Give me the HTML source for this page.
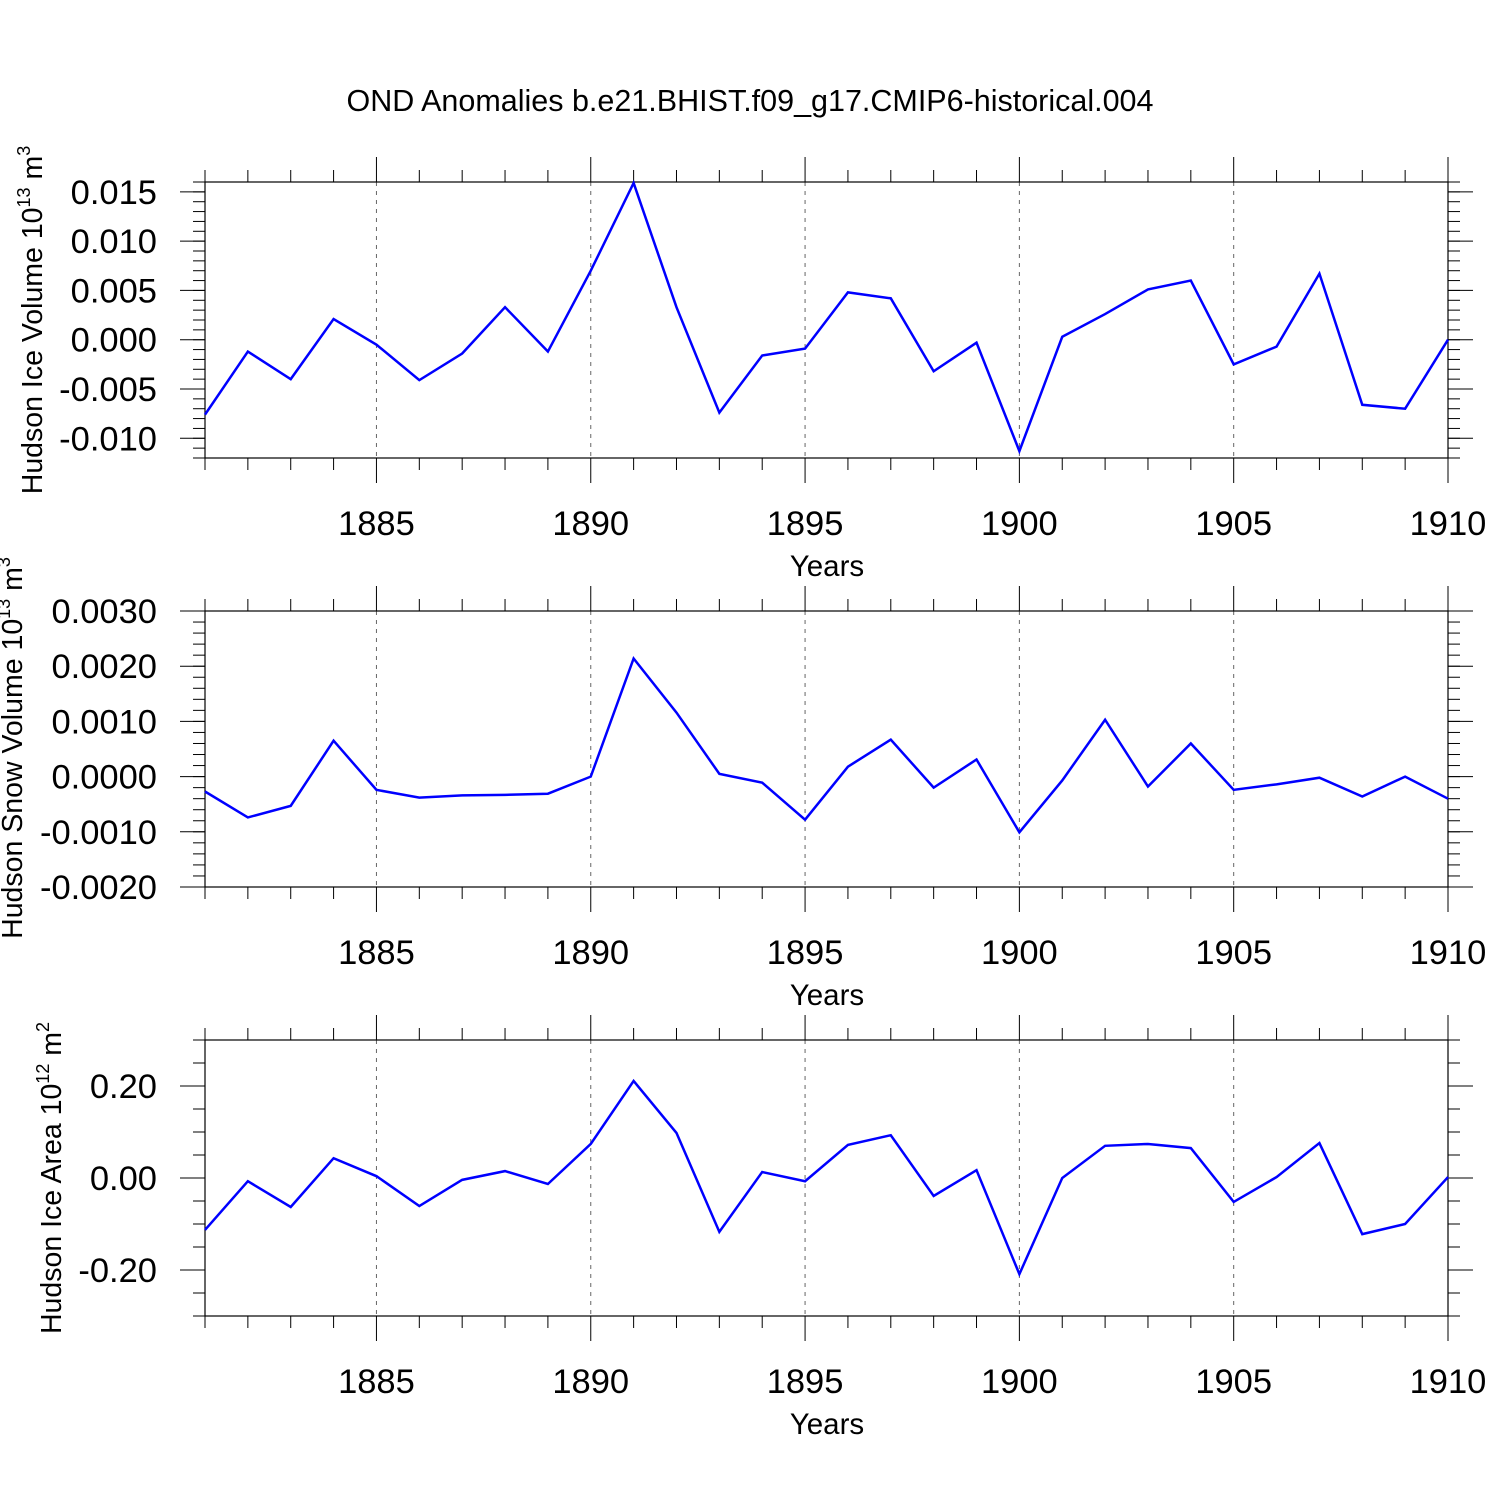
<!DOCTYPE html>
<html><head><meta charset="utf-8"><style>
html,body{margin:0;padding:0;background:#fff}
svg{display:block;font-family:"Liberation Sans",Arial,sans-serif}
</style></head><body>
<svg id="chart" width="1500" height="1500" viewBox="0 0 1500 1500" xmlns="http://www.w3.org/2000/svg">
<text x="750" y="111" font-size="30.5" text-anchor="middle">OND Anomalies b.e21.BHIST.f09_g17.CMIP6-historical.004</text>
</svg>
<script>
const years = [1881,1882,1883,1884,1885,1886,1887,1888,1889,1890,1891,1892,1893,1894,1895,1896,1897,1898,1899,1900,1901,1902,1903,1904,1905,1906,1907,1908,1909,1910];
const iceVolume = [-0.0076,-0.0012,-0.0040,0.0021,-0.0005,-0.0041,-0.0014,0.0033,-0.0012,0.0070,0.0159,0.0033,-0.0074,-0.0016,-0.0009,0.0048,0.0042,-0.0032,-0.0003,-0.0113,0.0003,0.0026,0.0051,0.0060,-0.0025,-0.0007,0.0067,-0.0066,-0.0070,0.0000];
const snowVolume = [-0.00027,-0.00074,-0.00053,0.00065,-0.00024,-0.00038,-0.00034,-0.00033,-0.00031,0.0,0.00214,0.00116,0.00005,-0.00011,-0.00078,0.00018,0.00067,-0.00020,0.00031,-0.00101,-0.00007,0.00103,-0.00018,0.00060,-0.00024,-0.00014,-0.00002,-0.00036,0.0,-0.00040];
const iceArea = [-0.113,-0.007,-0.063,0.043,0.004,-0.061,-0.004,0.015,-0.013,0.074,0.211,0.098,-0.117,0.013,-0.007,0.072,0.093,-0.039,0.017,-0.209,0.0,0.070,0.074,0.065,-0.052,0.002,0.076,-0.122,-0.100,0.002];
const xTickYears = [1885,1890,1895,1900,1905,1910];
const iceVolTicks = [-0.010,-0.005,0.000,0.005,0.010,0.015];
const iceVolLabels = ["-0.010","-0.005","0.000","0.005","0.010","0.015"];
const snowTicks = [-0.002,-0.001,0,0.001,0.002,0.003];
const snowLabels = ["-0.0020","-0.0010","0.0000","0.0010","0.0020","0.0030"];
const areaTicks = [-0.2,0,0.2];
const areaLabels = ["-0.20","0.00","0.20"];

const NS="http://www.w3.org/2000/svg";
const svg=document.getElementById('chart');
function mk(tag,attrs,parent){const e=document.createElementNS(NS,tag);for(const k in attrs)e.setAttribute(k,attrs[k]);(parent||svg).appendChild(e);return e;}
const X0=205,X1=1448,YR0=1881,YR1=1910;
function xs(y){return X0+(y-YR0)*(X1-X0)/(YR1-YR0);}

function panel(name,top,bot,ymin,ymax,minorStep,ticks,labels,vals,titleMain,sup,unit,usup,tx,ty){
  const g=mk('g',{});
  
  
  const ys=v=>bot-(v-ymin)*(bot-top)/(ymax-ymin);
  xTickYears.forEach(yr=>{ if(yr<YR1){const l=mk('line',{x1:xs(yr),x2:xs(yr),y1:top,y2:bot,stroke:'#666','stroke-width':1,'stroke-dasharray':'4,5'},g);
    
    }});
  const r=mk('rect',{x:X0,y:top,width:X1-X0,height:bot-top,fill:'none',stroke:'#000','stroke-width':1.2},g);
  
  
  for(let yr=YR0;yr<=YR1;yr++){
    const maj=xTickYears.includes(yr),len=maj?25:12,x=xs(yr);
    mk('line',{x1:x,x2:x,y1:top,y2:top-len,stroke:'#000','stroke-width':1},g);
    mk('line',{x1:x,x2:x,y1:bot,y2:bot+len,stroke:'#000','stroke-width':1},g);
  }
  xTickYears.forEach(yr=>{const t=mk('text',{x:xs(yr),y:bot+77,'font-size':34.5,'text-anchor':'middle'},g);t.textContent=yr;
    
    });
  const xt=mk('text',{x:827,y:bot+118,'font-size':29.5,'text-anchor':'middle'},g);xt.textContent='Years';
  
  
  const n=Math.round((ymax-ymin)/minorStep);
  for(let i=0;i<=n;i++){const y=ys(ymin+i*minorStep);
    mk('line',{x1:X0,x2:X0-12,y1:y,y2:y,stroke:'#000','stroke-width':1},g);
    mk('line',{x1:X1,x2:X1+12,y1:y,y2:y,stroke:'#000','stroke-width':1},g);}
  ticks.forEach((v,i)=>{const y=ys(v);
    mk('line',{x1:X0,x2:X0-25,y1:y,y2:y,stroke:'#000','stroke-width':1},g);
    mk('line',{x1:X1,x2:X1+25,y1:y,y2:y,stroke:'#000','stroke-width':1},g);
    const t=mk('text',{x:157,y:y+12,'font-size':34.5,'text-anchor':'end'},g);t.textContent=labels[i];
    
    });
  const yt=mk('text',{x:0,y:0,'font-size':28.5,'text-anchor':'middle',transform:`translate(${tx},${ty}) rotate(-90)`},g);
  
  
  yt.appendChild(document.createTextNode(titleMain));
  const s1=mk('tspan',{dy:-12,'font-size':18},yt);s1.textContent=sup;
  const s2=mk('tspan',{dy:12},yt);s2.textContent=' '+unit;
  const s3=mk('tspan',{dy:-12,'font-size':18},yt);s3.textContent=usup;
  const pts=vals.map((v,i)=>xs(years[i])+','+ys(v)).join(' ');
  const pl=mk('polyline',{points:pts,fill:'none',stroke:'#0000ff','stroke-width':2.5,'stroke-linejoin':'miter'},g);
  
  
}
panel('ice-volume',182,458,-0.012,0.016,0.001,iceVolTicks,iceVolLabels,iceVolume,'Hudson Ice Volume 10','13','m','3',42,320);
panel('snow-volume',611,887,-0.002,0.003,0.0002,snowTicks,snowLabels,snowVolume,'Hudson Snow Volume 10','13','m','3',22,748);
panel('ice-area',1040,1316,-0.3,0.3,0.05,areaTicks,areaLabels,iceArea,'Hudson Ice Area 10','12','m','2',61,1178);
</script>
</body></html>
